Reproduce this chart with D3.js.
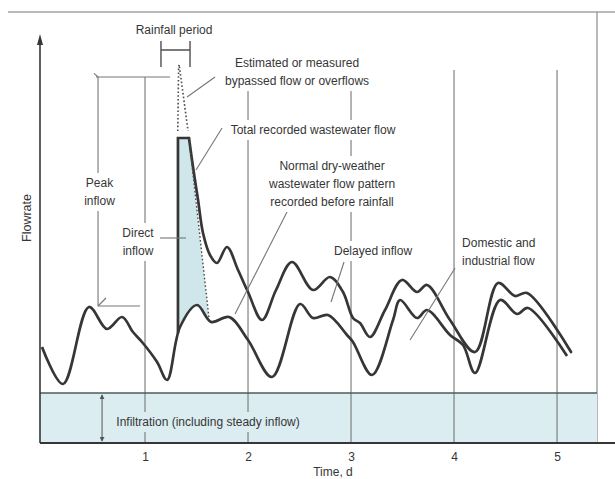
<!DOCTYPE html>
<html>
<head>
<meta charset="utf-8">
<script src="https://cdn.jsdelivr.net/npm/d3@7"></script>
<style>
  html, body { margin: 0; padding: 0; background: #fff; }
  svg { display: block; font-family: "Liberation Sans", Arial, Helvetica, sans-serif; }
</style>
</head>
<body>
<svg id="chart" width="615" height="479"></svg>
<script>
// ---- time axis ----
const tickDays = [1, 2, 3, 4, 5];
const gridTops = [91.5, 88.25, 88.25, 93.25, 93.25];   // flowrate where each day line starts

// ---- normal dry-weather wastewater flow pattern (day, flowrate) ----
const dryDays = [0, 0.204, 0.456, 0.631, 0.777, 0.883, 0.971, 1.117, 1.214, 1.340, 1.505, 1.641,
                 1.816, 2.0, 2.233, 2.505, 2.631, 2.777, 2.961, 3.019, 3.204, 3.408, 3.476, 3.641,
                 3.738, 3.961, 4.087, 4.204, 4.447, 4.612, 4.718, 5.097];
const dryFlow = [24, 14.75, 34, 28.5, 31.5, 27.75, 25.25, 20.25, 15.75, 29, 34.5, 30.25,
                 31.5, 25.75, 16.5, 34.75, 31.25, 32, 27, 25.25, 17, 30.75, 35.75, 31.25,
                 33.25, 27, 24.5, 17.5, 35.75, 32.25, 33.75, 21.75];

// ---- total recorded flow after the rainfall plateau (day, flowrate) ----
const wetDays = [1.427, 1.466, 1.515, 1.563, 1.631, 1.699, 1.796, 1.903, 2.0, 2.136, 2.272, 2.427,
                 2.631, 2.796, 2.922, 3.019, 3.087, 3.184, 3.330, 3.495, 3.641, 3.738, 3.961,
                 4.204, 4.427, 4.592, 4.709, 5.136];
const wetFlow = [76.25, 69, 60.75, 52.5, 47, 45, 49, 43.25, 37.75, 30.75, 38.25, 45.25,
                 38.25, 41.5, 37.75, 31.25, 30, 26.5, 33.25, 40.75, 37.75, 39.5, 30.75,
                 22.75, 40, 36.75, 37.5, 22.75];

// ---- rainfall event ----
const rainPeriod = [1.155, 1.437];          // days
const surgeDays = [1.320, 1.427];           // recorded surge: rise, end of plateau
const recordedPeak = 76.25;                 // recorder capacity (flat top)
const estimatedPeakDays = [1.318, 1.326, 1.331, 1.337, 1.418];
const estimatedPeakFlow = [78, 93.5, 94.6, 93.5, 78];
const directInflowEnd = [1.621, 31.25];     // where direct inflow rejoins the dry-weather pattern
const infiltration = 12.5;                  // steady infiltration level

// ---- layout ----
const W = 615, H = 479;
const svg = d3.select("#chart");
const x = d3.scaleLinear().domain([0, 5.388]).range([42, 597]);
const y = d3.scaleLinear().domain([0, 102.5]).range([443, 33]);

const ink = "#363636", thin = "#767676", band = "#dbedf1", surgeFill = "#cfe6eb";

const straight = d3.line().x(p => x(p[0])).y(p => y(p[1]));
const smooth = d3.line().x(p => x(p[0])).y(p => y(p[1])).curve(d3.curveCatmullRom.alpha(0.5));

const dry = d3.zip(dryDays, dryFlow);
const wet = d3.zip(wetDays, wetFlow);

// outer frame rules
svg.append("line").attr("x1", 8).attr("x2", W).attr("y1", 12).attr("y2", 12)
  .attr("stroke", "#a3a3a3").attr("stroke-width", 1.5);
svg.append("line").attr("x1", x.range()[1]).attr("x2", x.range()[1]).attr("y1", 12).attr("y2", y(0))
  .attr("stroke", "#8a8a8a").attr("stroke-width", 1.2);

// infiltration band
svg.append("rect")
  .attr("x", x(0) - 2).attr("y", y(infiltration))
  .attr("width", x.range()[1] - x(0) + 2).attr("height", y(0) - y(infiltration))
  .attr("fill", band);

// day lines
svg.append("g").selectAll("line").data(tickDays).join("line")
  .attr("x1", d => x(d)).attr("x2", d => x(d))
  .attr("y1", (d, i) => y(gridTops[i])).attr("y2", y(0))
  .attr("stroke", thin).attr("stroke-width", 1.1);

// band top edge
svg.append("line").attr("x1", x(0) - 2).attr("x2", x.range()[1])
  .attr("y1", y(infiltration)).attr("y2", y(infiltration))
  .attr("stroke", "#4d5b5c").attr("stroke-width", 1.6);

// axes lines
svg.append("line").attr("x1", x(0) - 2).attr("x2", W).attr("y1", y(0)).attr("y2", y(0))
  .attr("stroke", ink).attr("stroke-width", 1.8);
svg.append("line").attr("x1", x(0) - 2).attr("x2", x(0) - 2).attr("y1", y(0)).attr("y2", y(100))
  .attr("stroke", ink).attr("stroke-width", 1.6);
svg.append("path")
  .attr("d", `M${x(0) - 2},${y(100) - 9} L${x(0) - 5},${y(100) + 2} L${x(0) + 1},${y(100) + 2} Z`)
  .attr("fill", ink);

// x axis tick labels
const xAxis = svg.append("g").attr("transform", `translate(0,${y(0)})`)
  .call(d3.axisBottom(x).tickValues(tickDays).tickSize(0).tickPadding(9).tickFormat(d3.format("d")));
xAxis.select(".domain").remove();
xAxis.selectAll("text").attr("font-size", 12).attr("fill", ink).attr("font-family", null);

svg.append("text").attr("x", 333).attr("y", 476).attr("text-anchor", "middle")
  .attr("font-size", 12).attr("fill", ink).text("Time, d");
svg.append("text").attr("transform", "translate(27,218) rotate(-90)")
  .attr("text-anchor", "middle").attr("dominant-baseline", "central")
  .attr("font-size", 12.5).attr("fill", ink).text("Flowrate");

// direct inflow (shaded) — bounded by surge, dotted line and the dry-weather curve
const clip = svg.append("defs").append("clipPath").attr("id", "aboveDry");
clip.append("path").attr("d",
  d3.area().x(p => x(p[0])).y0(y(102.5)).y1(p => y(p[1])).curve(d3.curveCatmullRom.alpha(0.5))(dry));
const slope = (directInflowEnd[0] - surgeDays[1]) / (recordedPeak - directInflowEnd[1]);
const extDay = surgeDays[1] + slope * (recordedPeak - 18);
svg.append("path")
  .attr("d", straight([[surgeDays[0], recordedPeak], [surgeDays[1], recordedPeak],
                       directInflowEnd, [extDay, 18], [surgeDays[0], 18]]) + "Z")
  .attr("clip-path", "url(#aboveDry)")
  .attr("fill", surgeFill);

// dry-weather curve
const dryPath = svg.append("path").attr("d", smooth(dry))
  .attr("fill", "none").attr("stroke", ink).attr("stroke-width", 2.7)
  .attr("stroke-linejoin", "round");

// flowrate on the dry curve at a given day (sampled along the drawn path)
function dryAt(day) {
  const node = dryPath.node(), total = node.getTotalLength(), px = x(day);
  let lo = 0, hi = total;
  for (let k = 0; k < 40; k++) {
    const mid = (lo + hi) / 2;
    if (node.getPointAtLength(mid).x < px) lo = mid; else hi = mid;
  }
  return y.invert(node.getPointAtLength(lo).y);
}

// recorded surge: rise and flat top, then the recession
svg.append("path")
  .attr("d", straight([[surgeDays[0], dryAt(surgeDays[0])], [surgeDays[0], recordedPeak],
                       [surgeDays[1], recordedPeak]]))
  .attr("fill", "none").attr("stroke", ink).attr("stroke-width", 2.7)
  .attr("stroke-linejoin", "miter").attr("stroke-linecap", "round");
svg.append("path").attr("d", smooth(wet))
  .attr("fill", "none").attr("stroke", ink).attr("stroke-width", 2.7)
  .attr("stroke-linejoin", "round").attr("stroke-linecap", "round");

// estimated bypassed flow and direct-inflow boundary (dotted)
svg.append("path").attr("d", straight(d3.zip(estimatedPeakDays, estimatedPeakFlow)))
  .attr("fill", "none").attr("stroke", "#4a4a4a").attr("stroke-width", 1.6)
  .attr("stroke-dasharray", "1.6,2.2");
svg.append("path").attr("d", straight([[surgeDays[1], recordedPeak], directInflowEnd]))
  .attr("fill", "none").attr("stroke", "#4a4a4a").attr("stroke-width", 1.4)
  .attr("stroke-dasharray", "1.6,2.2");

// thin annotation rules (day, flowrate pairs)
const rules = [
  [[0.524, 91.5], [1.243, 91.5]],          // peak level
  [[0.544, 91.5], [0.544, 34.25]],         // peak inflow span
  [[0.544, 34.25], [0.951, 34.25]],        // dry-weather peak level
  [[0.544, 34.25], [0.621, 36.25]],
  [[0.505, 92.4], [0.544, 91.5]],
  [[1.680, 91.5], [1.408, 86.5]],          // -> estimated flow
  [[1.748, 78.75], [1.495, 68.25]],        // -> total recorded
  [[2.398, 58.75], [1.874, 32.25]],        // -> dry-weather pattern
  [[2.932, 45.25], [2.806, 35.25]],        // -> delayed inflow
  [[4.010, 43.75], [3.573, 25.75]],        // -> domestic flow
  [[1.146, 51.25], [1.398, 51.25]]         // -> direct inflow
];
svg.append("g").selectAll("path").data(rules).join("path")
  .attr("d", d => straight(d)).attr("fill", "none")
  .attr("stroke", thin).attr("stroke-width", 1.1);

// rainfall period bracket
svg.append("path")
  .attr("d", straight([[rainPeriod[0], 98.25], [rainPeriod[1], 98.25]]) + " " +
             straight([[rainPeriod[0], 100.5], [rainPeriod[0], 94]]) + " " +
             straight([[rainPeriod[1], 100.5], [rainPeriod[1], 94]]))
  .attr("fill", "none").attr("stroke", "#505050").attr("stroke-width", 1.4);

// infiltration depth arrow
const defs = svg.select("defs");
defs.append("marker").attr("id", "tip").attr("viewBox", "0 0 6 6").attr("refX", 5).attr("refY", 3)
  .attr("markerWidth", 5).attr("markerHeight", 5).attr("orient", "auto-start-reverse")
  .append("path").attr("d", "M0,0 L6,3 L0,6 Z").attr("fill", "#555");
svg.append("line").attr("x1", x(0.583)).attr("x2", x(0.583))
  .attr("y1", y(infiltration) + 2).attr("y2", y(0) - 2)
  .attr("stroke", "#555").attr("stroke-width", 1)
  .attr("marker-start", "url(#tip)").attr("marker-end", "url(#tip)");

// text labels (anchor in day, flowrate of the first line)
const labels = [
  { lines: ["Rainfall period"], at: [1.282, 103.25], anchor: "middle", bg: null },
  { lines: ["Estimated or measured", "bypassed flow or overflows"], at: [2.476, 95], anchor: "middle", bg: "#fff" },
  { lines: ["Total recorded wastewater flow"], at: [2.631, 78.25], anchor: "middle", bg: "#fff" },
  { lines: ["Normal dry-weather", "wastewater flow pattern", "recorded before rainfall"], at: [2.816, 69.25], anchor: "middle", bg: "#fff" },
  { lines: ["Peak", "inflow"], at: [0.558, 65], anchor: "middle", bg: "#fff" },
  { lines: ["Direct", "inflow"], at: [0.932, 52.5], anchor: "middle", bg: "#fff" },
  { lines: ["Delayed inflow"], at: [3.214, 48], anchor: "middle", bg: "#fff" },
  { lines: ["Domestic and", "industrial flow"], at: [4.078, 50], anchor: "start", bg: null },
  { lines: ["Infiltration (including steady inflow)"], at: [1.612, 5.25], anchor: "middle", bg: band }
];
const lineGap = 18;
labels.forEach(l => {
  const g = svg.append("g");
  const t = g.append("text").attr("font-size", 12).attr("fill", ink)
    .attr("text-anchor", l.anchor);
  l.lines.forEach((s, i) => {
    t.append("tspan").attr("x", x(l.at[0])).attr("y", y(l.at[1]) + i * lineGap + 4).text(s);
  });
  if (l.bg) {
    const b = t.node().getBBox();
    g.insert("rect", "text").attr("x", b.x - 3).attr("y", b.y - 3)
      .attr("width", b.width + 6).attr("height", b.height + 6).attr("fill", l.bg);
  }
});
</script>
</body>
</html>
